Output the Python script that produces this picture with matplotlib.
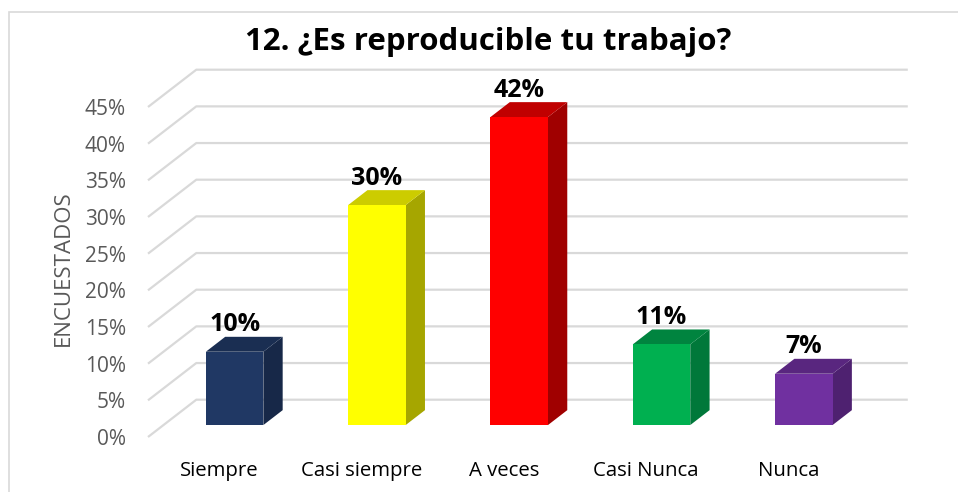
import matplotlib
matplotlib.use("Agg")
import matplotlib.pyplot as plt
from matplotlib.patches import Polygon, Rectangle
import numpy as np

categories = ["Siempre", "Casi siempre", "A veces", "Casi Nunca", "Nunca"]
values = [10, 30, 42, 11, 7]
labels = ["10%", "30%", "42%", "11%", "7%"]
yticks = [0, 5, 10, 15, 20, 25, 30, 35, 40, 45]

front_colors = ["#203864", "#FFFF00", "#FF0000", "#00B050", "#7030A0"]
top_colors = ["#1A2E52", "#CCCC00", "#C00000", "#00843F", "#59267F"]
side_colors = ["#172848", "#A6A600", "#A00000", "#00783A", "#4E2170"]

plt.rcParams['font.family'] = ['Open Sans', 'DejaVu Sans']

W, H = 958, 492
fig = plt.figure(figsize=(W / 100, H / 100), dpi=100)

# axes = front plane of the 3d box
left_px, right_px, bot_px, top_px = 148, 859.5, 437, 107
ax = fig.add_axes([left_px / W, 1 - bot_px / H,
                   (right_px - left_px) / W, (bot_px - top_px) / H])
ax.set_xlim(-0.5, len(categories) - 0.5)
ax.set_ylim(0, 45)
for s in ax.spines.values():
    s.set_visible(False)
ax.patch.set_visible(False)

# depth of the box in data units
ppx = (right_px - left_px) / len(categories)
ppy = (bot_px - top_px) / 45.0
DX, DY = 48.3 / ppx, 37.3 / ppy
grid_c = "#D9D9D9"

x = np.arange(len(categories))
x0 = -0.5
x1 = len(categories) - 0.5
for v in yticks:
    # left wall diagonal + back wall line
    ax.plot([x0, x0 + DX, x1 + DX], [v, v + DY, v + DY], color=grid_c,
            lw=1.6, clip_on=False, zorder=1, solid_capstyle='butt')

# bars
f, g = 0.32, 0.40
bw = 0.404
bx = x + f * DX
bb = f * DY
ax.bar(bx, values, width=bw, bottom=bb, color=front_colors, zorder=3)
for i, v in enumerate(values):
    xl, xr = bx[i] - bw / 2, bx[i] + bw / 2
    yt = bb + v
    side = Polygon([(xr, bb), (xr, yt), (xr + g * DX, yt + g * DY),
                    (xr + g * DX, bb + g * DY)], closed=True,
                   facecolor=side_colors[i], edgecolor='none', zorder=2.9,
                   clip_on=False)
    top = Polygon([(xl, yt), (xr, yt), (xr + g * DX, yt + g * DY),
                   (xl + g * DX, yt + g * DY)], closed=True,
                  facecolor=top_colors[i], edgecolor='none', zorder=2.9,
                  clip_on=False)
    ax.add_patch(side)
    ax.add_patch(top)
    ax.text(bx[i], yt + g * DY + 5.4 / ppy, labels[i],
            ha='center', va='baseline', fontsize=18, fontweight='bold',
            color='black', zorder=4)

ax.set_yticks(yticks)
ax.set_yticklabels([f"{t}%" for t in yticks], color="#595959", fontsize=15)
ax.tick_params(axis='y', length=0, pad=16)
ax.set_xticks(x)
ax.set_xticklabels(categories, color="black", fontsize=14.7)
ax.tick_params(axis='x', length=0, pad=17.5)
ax.set_ylabel("ENCUESTADOS", color="#595959", fontsize=16)
ax.yaxis.set_label_coords(74 / W, 1 - 268 / H, transform=fig.transFigure)

fig.text(488 / W, 1 - 50 / H, "12. ¿Es reproducible tu trabajo?",
         ha='center', va='baseline', fontsize=22.5, fontweight='bold')

# chart border
fig.patches.append(Rectangle((9 / W, -0.1), 1.2, 1 - 12 / H + 0.1,
                             transform=fig.transFigure, fill=False,
                             edgecolor="#D9D9D9", lw=1.2))

fig.savefig("out.png", dpi=100)
